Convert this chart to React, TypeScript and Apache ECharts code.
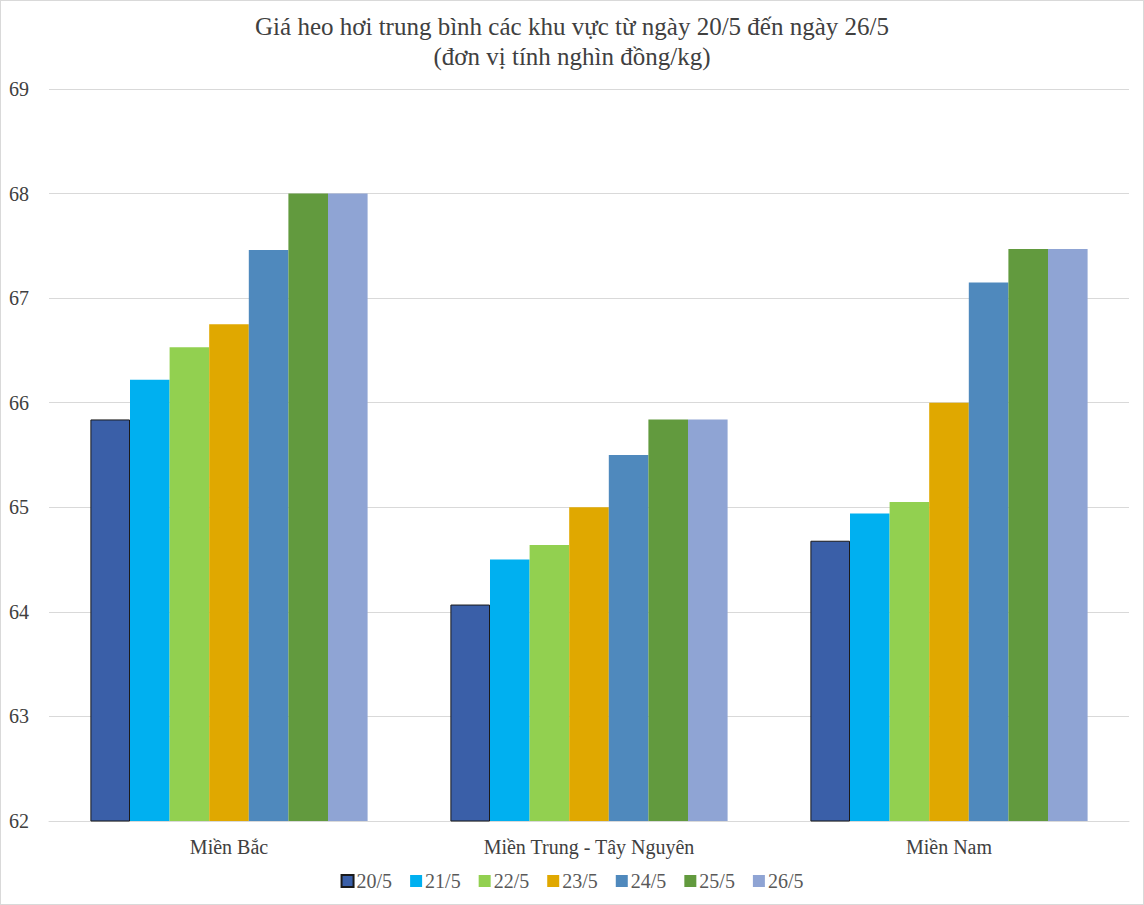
import React, { useEffect, useRef } from "react";
import * as echarts from "echarts";

const titleText = "Giá heo hơi trung bình các khu vực từ ngày 20/5 đến ngày 26/5\n(đơn vị tính nghìn đồng/kg)";
const regions = ["Miền Bắc", "Miền Trung - Tây Nguyên", "Miền Nam"];
const dates = ["20/5", "21/5", "22/5", "23/5", "24/5", "25/5", "26/5"];
const colors = ["#3A5FA8", "#00B0F0", "#92D050", "#E0A800", "#4F89BD", "#629A3E", "#8FA4D4"];
// values per date, ordered by region
const v20 = [65.84, 64.07, 64.68];
const v21 = [66.22, 64.5, 64.94];
const v22 = [66.53, 64.64, 65.05];
const v23 = [66.75, 65.0, 66.0];
const v24 = [67.46, 65.5, 67.15];
const v25 = [68.0, 65.84, 67.47];
const v26 = [68.0, 65.84, 67.47];
const seriesValues = [v20, v21, v22, v23, v24, v25, v26];
const yMin = 62;
const yMax = 69;
const yInterval = 1;

const FONT = "Liberation Serif";

export default function App() {
  const ref = useRef<HTMLDivElement>(null);
  useEffect(() => {
    document.body.style.margin = "0";
    if (!ref.current) return;
    const chart = echarts.init(ref.current, null, { renderer: "svg" });
    chart.setOption({
      animation: false,
      backgroundColor: "#ffffff",
      textStyle: { fontFamily: FONT },
      title: {
        text: titleText,
        left: "center",
        top: 5,
        textStyle: {
          fontFamily: FONT,
          fontSize: 25,
          fontWeight: "normal",
          color: "#404040",
          lineHeight: 30,
        },
      },
      legend: {
        bottom: 8,
        left: "center",
        itemWidth: 12,
        itemHeight: 12,
        itemGap: 18,
        icon: "rect",
        textStyle: { fontFamily: FONT, fontSize: 20, color: "#595959", padding: [0, 0, 0, -2] },
        data: dates,
      },
      grid: { left: 48, right: 14, top: 88, bottom: 83, containLabel: false },
      xAxis: {
        type: "category",
        data: regions,
        axisLine: { show: true, lineStyle: { color: "#d9d9d9", width: 1 } },
        axisTick: { show: false },
        axisLabel: { fontFamily: FONT, fontSize: 20, color: "#404040", margin: 16 },
      },
      yAxis: {
        type: "value",
        min: yMin,
        max: yMax,
        interval: yInterval,
        axisLine: { show: false },
        axisTick: { show: false },
        splitLine: { lineStyle: { color: "#d9d9d9", width: 1 } },
        axisLabel: { fontFamily: FONT, fontSize: 20, color: "#404040", align: "left", margin: 40 },
      },
      series: dates.map((d, i) => ({
        name: d,
        type: "bar",
        data: seriesValues[i],
        barGap: "0%",
        barCategoryGap: "23%",
        itemStyle: {
          color: colors[i],
          borderColor: i === 0 ? "#1a1a1a" : colors[i],
          borderWidth: i === 0 ? 1 : 0,
        },
      })),
    });
    return () => chart.dispose();
  }, []);
  return (
    <div
      ref={ref}
      style={{
        width: 1144,
        height: 905,
        position: "absolute",
        left: 0,
        top: 0,
        border: "1px solid #d9d9d9",
        boxSizing: "border-box",
      }}
    />
  );
}
